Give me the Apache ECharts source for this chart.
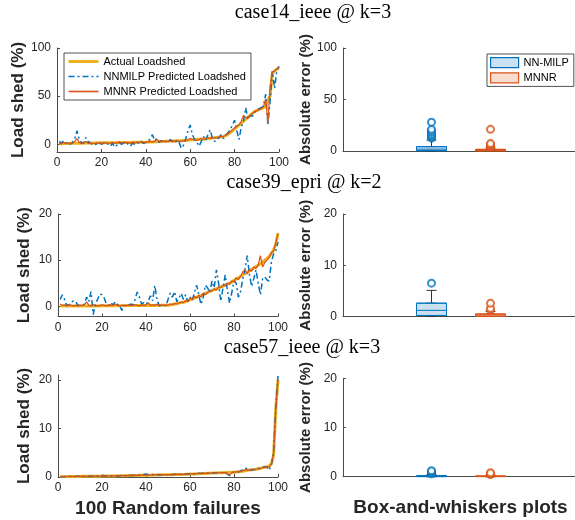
<!DOCTYPE html>
<html><head><meta charset="utf-8">
<script src="https://cdn.jsdelivr.net/npm/echarts@6/dist/echarts.min.js"></script>
<style>html,body{margin:0;padding:0;background:#fff}#c{width:575px;height:520px}</style>
</head><body><div id="c"></div><script>
// ---------------- DATA ----------------
const titles = ['case14_ieee @ k=3', 'case39_epri @ k=2', 'case57_ieee @ k=3'];
const seriesNames = ['Actual Loadshed', 'NNMILP Predicted Loadshed', 'MNNR Predicted Loadshed'];
const boxNames = ['NN-MILP', 'MNNR'];
const xTicks = [0, 20, 40, 60, 80, 100];

const actual14 = [0.5,0.6,0.7,0.8,0.9,1.0,1.0,1.1,1.1,1.2,
 1.2,1.2,1.3,1.3,1.3,1.4,1.4,1.4,1.5,1.5,
 1.5,1.5,1.6,1.6,1.6,1.7,1.7,1.7,1.8,1.8,
 1.8,1.9,1.9,2.0,2.0,2.0,2.1,2.1,2.2,2.2,
 2.3,2.4,2.5,2.6,2.7,2.8,2.9,3.0,3.1,3.2,
 3.3,3.4,3.5,3.6,3.7,3.8,3.9,4.0,4.2,4.4,
 4.6,4.8,5.0,5.2,5.4,5.6,5.8,6.0,6.3,6.6,
 6.9,7.2,7.5,7.8,8.2,9,10.5,12,14,16,
 18,20,22,24,26,28,30,32,34,35,
 36,37,38,40,46,50,74,76,78,80];
const nnmilp14 = [3,1,4,1,2,0,2,6,14,5,
 2,1,7,3,1,0,-1,1,2,0,
 1,2,0,-2,1,-3,-1,2,0,1,
 2,0,-2,1,0,2,1,3,1,2,
 3,6,10,4,6,2,4,2,3,2,
 5,3,1,4,2,-4,-1,6,14,20,
 10,5,2,-2,3,8,4,10,15,6,
 3,4,7,10,6,9,12,15,20,25,
 14,5,18,24,38,26,30,29,33,36,
 37,38,40,52,20,45,76,58,76,81];
const mnnr14 = [1,0.5,2,1,1.5,0.8,1,3,6,2,
 1,1.5,3,1,1.2,0.8,1,1.5,1.2,1,
 1.5,1.8,1,1.2,2,1,1.5,2.5,1.5,2,
 2,1.5,1,2,1.5,2.2,2,2.5,2,2,
 2.5,3,2.5,3,5,3,3.5,3,3,3,
 3.5,3,3.5,4,3,3,3.5,4,5,6,
 5,4.5,4,5,6,5,5.5,7,6,6.5,
 7,6.5,7.5,8,8,10,11,13,15,17,
 19,20,24,30,28,27,30,32,34,35,
 36,37,39,47,22,60,75,76,78,80];

const actual39 = [0.1,0.1,0.1,0.1,0.1,0.1,0.1,0.1,0.1,0.1,
 0.1,0.1,0.1,0.1,0.1,0.1,0.1,0.1,0.1,0.1,
 0.15,0.15,0.15,0.15,0.15,0.15,0.15,0.15,0.15,0.15,
 0.2,0.2,0.2,0.2,0.2,0.2,0.2,0.2,0.2,0.2,
 0.2,0.2,0.2,0.2,0.2,0.25,0.25,0.25,0.25,0.25,
 0.3,0.4,0.5,0.6,0.7,0.8,0.9,1.0,1.2,1.4,
 1.6,1.8,2.0,2.2,2.4,2.6,2.8,3.0,3.2,3.4,
 3.6,3.8,4.0,4.2,4.4,4.6,4.8,5.0,5.3,5.6,
 5.9,6.2,6.5,6.8,7.1,7.4,7.7,8.0,8.3,8.6,
 8.9,9.2,9.6,10.0,10.4,10.8,11.5,12.2,13.5,15.8];
const nnmilp39 = [1.5,2.5,1.5,0.2,0.3,0.8,1.2,1.0,0.3,0.2,
 0.1,0.5,2.0,1.0,3.2,-1.8,0.5,1.5,2.7,2.5,
 1.8,0.5,0.2,0.8,0.3,1.0,0.4,0.2,-0.9,0.1,
 0.3,0.2,0.5,0.3,1.5,3.1,2.0,0.5,0.8,0.4,
 1.0,2.3,1.2,4.5,1.5,0.1,0.2,0.3,0.1,1.5,
 2.9,2.0,3.2,1.0,1.8,2.8,1.5,2.5,1.0,2.0,
 1.2,3.0,4.6,2.5,0.4,2.0,4.6,4.0,3.0,5.5,
 4.0,7.9,5.0,1.1,4.0,6.8,3.5,0.7,3.0,5.5,
 5.0,2.0,3.2,6.0,8.0,11.0,7.0,4.3,6.0,7.9,
 5.0,2.5,6.0,6.4,5.7,5.5,9.6,11.4,12.0,13.9];
const mnnr39 = [0.5,0.2,0.3,0.1,0.4,0.2,0.1,0.2,0.1,0.2,
 0.2,0.3,1.0,0.2,0.1,0.3,0.2,0.1,0.2,0.3,
 0.2,0.1,0.2,0.3,0.2,0.5,0.2,0.1,0.2,0.2,
 0.1,0.3,0.2,0.2,0.4,0.2,0.1,0.3,0.2,0.3,
 0.8,0.2,0.3,0.2,0.5,0.2,0.3,0.2,0.2,0.3,
 0.5,0.4,0.6,0.5,0.8,0.9,0.8,1.3,1.0,1.8,
 1.5,2.2,1.8,2.4,2.0,2.8,2.5,3.0,3.3,3.4,
 3.8,3.5,4.2,4.0,4.6,4.5,5.0,4.8,5.5,5.3,
 6.2,5.8,6.5,7.5,7.9,7.0,8.0,7.6,8.5,8.2,
 9.0,11.0,8.5,9.5,10.0,10.6,11.6,12.0,13.8,15.8];

const actual57 = [0.05,0.06,0.07,0.08,0.09,0.1,0.1,0.11,0.12,0.12,
 0.13,0.14,0.14,0.15,0.16,0.16,0.17,0.18,0.18,0.19,
 0.2,0.2,0.21,0.22,0.22,0.23,0.24,0.25,0.26,0.27,
 0.28,0.29,0.3,0.31,0.32,0.33,0.34,0.35,0.36,0.37,
 0.38,0.39,0.4,0.41,0.42,0.43,0.44,0.45,0.46,0.47,
 0.48,0.49,0.5,0.51,0.52,0.53,0.54,0.56,0.58,0.6,
 0.62,0.64,0.66,0.68,0.7,0.72,0.74,0.76,0.78,0.8,
 0.82,0.84,0.86,0.88,0.9,0.92,0.94,0.96,0.98,1.0,
 1.05,1.1,1.15,1.2,1.3,1.4,1.45,1.5,1.55,1.6,
 1.7,1.8,1.9,2.0,2.1,2.3,2.7,4.5,14,20];
const nnmilp57 = [0.1,0.0,0.1,0.05,0.15,0.1,0.0,0.1,0.2,0.1,
 0.15,0.1,0.2,0.1,0.15,0.2,0.1,0.2,0.15,0.2,
 0.25,0.2,0.15,0.25,0.2,0.3,0.2,0.25,0.3,0.25,
 0.3,0.25,0.35,0.3,0.35,0.3,0.4,0.35,0.5,0.6,
 0.45,0.4,0.5,0.4,0.45,0.5,0.4,0.5,0.45,0.5,
 0.5,0.45,0.55,0.5,0.6,0.5,0.6,0.55,0.6,0.65,
 0.7,0.6,0.8,0.75,0.7,0.8,0.7,0.8,0.75,0.85,
 0.8,0.9,0.85,0.9,0.95,0.9,0.6,0.3,0.9,1.0,
 1.0,1.1,1.2,1.6,1.8,1.7,1.5,1.4,1.6,1.5,
 1.8,1.7,2.0,2.1,2.0,1.4,2.6,5.0,14.5,20.8];
const mnnr57 = [0.05,0.1,0.05,0.1,0.1,0.12,0.1,0.12,0.15,0.12,
 0.15,0.12,0.15,0.18,0.15,0.18,0.2,0.18,0.2,0.2,
 0.22,0.2,0.22,0.25,0.22,0.25,0.25,0.28,0.27,0.3,
 0.3,0.3,0.32,0.33,0.32,0.35,0.35,0.37,0.38,0.4,
 0.4,0.4,0.42,0.43,0.42,0.45,0.45,0.47,0.48,0.5,
 0.5,0.5,0.52,0.53,0.55,0.55,0.6,0.58,0.6,0.62,
 0.65,0.66,0.68,0.7,0.72,0.75,0.76,0.78,0.8,0.82,
 0.85,0.86,0.88,0.9,0.92,0.9,0.7,0.4,0.9,1.0,
 1.05,1.1,1.15,1.3,1.4,1.45,1.4,1.5,1.55,1.6,
 1.7,1.75,1.9,2.0,2.1,2.0,2.7,4.8,14.2,20.0];

// boxplot stats: [min, Q1, median, Q3, max] and outliers
const boxNN14 = [0, 0.3, 1.8, 4.2, 10.6];
const outNN14 = [12.5, 13.5, 14.5, 16, 18, 19.5, 21, 28];
const boxMN14 = [0, 0.1, 0.6, 1.6, 3.0];
const outMN14 = [3.8, 4.5, 5.3, 6.2, 7.2, 21];
const boxNN39 = [0, 0.2, 1.2, 2.6, 5.1];
const outNN39 = [6.5];
const boxMN39 = [0, 0.05, 0.3, 0.5, 1.0];
const outMN39 = [1.3, 1.6, 2.6];
const boxNN57 = [0, 0.02, 0.08, 0.2, 0.45];
const outNN57 = [0.6, 0.8, 1.0, 1.2];
const boxMN57 = [0, 0.02, 0.06, 0.15, 0.3];
const outMN57 = [0.45, 0.6, 0.8];

const leftYTicks = [[0, 50, 100], [0, 10, 20], [0, 10, 20]];

// ---------------- LAYOUT / STYLE ----------------
const FONT = 'Liberation Sans, Arial, Helvetica, sans-serif';
const SERIF = 'Liberation Serif, Times New Roman, serif';
const C_Y = '#EDB120', C_B = '#0072BD', C_O = '#D95319';
const FILL_B = '#cbe1f1', FILL_O = '#f7dccf';
const AX = '#4a4a4a';

const lines = [[actual14, nnmilp14, mnnr14], [actual39, nnmilp39, mnnr39], [actual57, nnmilp57, mnnr57]];
const boxes = [[[boxNN14, outNN14], [boxMN14, outMN14]], [[boxNN39, outNN39], [boxMN39, outMN39]], [[boxNN57, outNN57], [boxMN57, outMN57]]];

const leftLayout = [
  {left: 57, top: 48, width: 222, height: 104, min: -8, max: 100},
  {left: 58, top: 214, width: 220, height: 102.5, min: -2.2, max: 20},
  {left: 58, top: 375, width: 220, height: 102, min: 0, max: 21}
];
const rightLayout = [
  {top: 48, height: 103, min: 0, max: 100, interval: 50},
  {top: 214, height: 102.5, min: 0, max: 20, interval: 10},
  {top: 378.3, height: 98.4, min: 0, max: 20, interval: 10}
];
const titlePos = [[313, 13], [304, 183], [302, 348]];
const lineStyles = [
  {color: C_Y, width: 3},
  {color: C_B, width: 1.5, type: [6, 3, 2, 3]},
  {color: C_O, width: 1.2}
];
const legendWidths = [3, 1.5, 1.6];

const grid = [], xAxis = [], yAxis = [], series = [];

function axisBase() {
  return {
    axisLine: {show: true, onZero: false, lineStyle: {color: AX, width: 1}},
    axisTick: {show: true, inside: true, length: 3, lineStyle: {color: AX, width: 1}},
    axisLabel: {color: '#262626', fontSize: 12, fontFamily: FONT},
    splitLine: {show: false}
  };
}
const noOuter = {outerBoundsMode: 'none', containLabel: false};

// left line panels
leftLayout.forEach((L, r) => {
  grid.push(Object.assign({left: L.left, top: L.top, width: L.width, height: L.height}, noOuter));
  const gi = grid.length - 1;
  const xa = Object.assign(axisBase(), {type: 'value', gridIndex: gi, min: 0, max: 100, interval: 20});
  xa.axisLabel.margin = 5;
  if (r === 2) {
    xa.name = '100 Random failures'; xa.nameLocation = 'middle'; xa.nameGap = 22;
    xa.nameTextStyle = {fontSize: 19, fontWeight: 'bold', color: '#262626', fontFamily: FONT};
  }
  xAxis.push(xa);
  const ya = Object.assign(axisBase(), {type: 'value', gridIndex: gi, min: L.min, max: L.max,
    name: 'Load shed (%)', nameLocation: 'middle', nameGap: 25,
    nameTextStyle: {fontSize: 17, fontWeight: 'bold', color: '#262626', fontFamily: FONT}});
  ya.axisLabel.customValues = leftYTicks[r];
  ya.axisTick.customValues = leftYTicks[r];
  ya.axisLabel.margin = 6;
  yAxis.push(ya);
  const xi = xAxis.length - 1, yi = yAxis.length - 1;
  lines[r].forEach((arr, k) => {
    series.push({
      type: 'line', name: seriesNames[k], xAxisIndex: xi, yAxisIndex: yi,
      data: arr.map((v, i) => [i + 1, v]), symbol: 'none', showSymbol: false,
      lineStyle: lineStyles[k], itemStyle: {color: lineStyles[k].color}, z: 2 + k, silent: true
    });
  });
});

// right box panels
rightLayout.forEach((R, r) => {
  grid.push(Object.assign({left: 343, top: R.top, width: 235, height: R.height}, noOuter));
  const gi = grid.length - 1;
  const xa = {type: 'value', gridIndex: gi, min: 0, max: 1,
    axisLine: {show: true, onZero: false, lineStyle: {color: AX, width: 1}},
    axisTick: {show: false}, axisLabel: {show: false}, splitLine: {show: false}};
  if (r === 2) {
    xa.name = 'Box-and-whiskers plots'; xa.nameLocation = 'middle'; xa.nameGap = 22;
    xa.nameTextStyle = {fontSize: 19, fontWeight: 'bold', color: '#262626', fontFamily: FONT};
  }
  xAxis.push(xa);
  const ya = Object.assign(axisBase(), {type: 'value', gridIndex: gi, min: R.min, max: R.max, interval: R.interval,
    name: 'Absolute error (%)', nameLocation: 'middle', nameGap: 30,
    nameTextStyle: {fontSize: 15, fontWeight: 'bold', color: '#262626', fontFamily: FONT}});
  ya.axisLabel.margin = 6;
  yAxis.push(ya);

  const lefts = [402, 461];
  const colors = [[C_B, FILL_B], [C_O, FILL_O]];
  boxes[r].forEach(([st, out], k) => {
    grid.push(Object.assign({left: lefts[k], top: R.top, width: 59, height: R.height}, noOuter));
    const bg = grid.length - 1;
    xAxis.push({type: 'category', gridIndex: bg, data: [boxNames[k]], show: false});
    const xA = xAxis.length - 1;
    xAxis.push({type: 'category', gridIndex: bg, data: [boxNames[k]], show: false, position: 'top'});
    const xB = xAxis.length - 1;
    yAxis.push({type: 'value', gridIndex: bg, min: R.min, max: R.max, show: false});
    const yB = yAxis.length - 1;
    series.push({type: 'boxplot', name: boxNames[k] + ' whisker', xAxisIndex: xB, yAxisIndex: yB,
      data: [st], boxWidth: [10, 10], silent: true,
      itemStyle: {color: '#fff', borderColor: '#333', borderWidth: 1}, z: 2});
    series.push({type: 'boxplot', name: boxNames[k], xAxisIndex: xA, yAxisIndex: yB,
      data: [[st[1], st[1], st[2], st[3], st[3]]], boxWidth: [30, 30], silent: true,
      itemStyle: {color: colors[k][1], borderColor: colors[k][0], borderWidth: 1}, z: 3});
    series.push({type: 'scatter', name: boxNames[k] + ' outliers', xAxisIndex: xA, yAxisIndex: yB,
      data: out.map(v => [0, v]), symbol: 'emptyCircle', symbolSize: 7, silent: true,
      itemStyle: {color: colors[k][0], borderColor: colors[k][0], borderWidth: 1.2}, z: 4});
  });
});

const option = {
  animation: false,
  backgroundColor: '#fff',
  grid, xAxis, yAxis, series,
  legend: [
    {data: seriesNames.map((n, k) => ({name: n, lineStyle: {width: legendWidths[k]}})),
      orient: 'vertical', left: 64, top: 53, itemWidth: 30, itemHeight: 10, itemGap: 4,
      padding: [3, 5, 3, 3], borderColor: '#262626', borderWidth: 0.8, backgroundColor: '#fff',
      itemStyle: {opacity: 0}, lineStyle: {opacity: 1},
      textStyle: {fontSize: 11, fontFamily: FONT, color: '#000'}, selectedMode: false},
    {data: [
        {name: boxNames[0], icon: 'rect', itemStyle: {color: FILL_B, borderColor: C_B, borderWidth: 1.2}},
        {name: boxNames[1], icon: 'rect', itemStyle: {color: FILL_O, borderColor: C_O, borderWidth: 1.2}}],
      orient: 'vertical', left: 487, top: 54, itemWidth: 28, itemHeight: 10, itemGap: 4,
      padding: [3, 5, 3, 3], borderColor: '#262626', borderWidth: 0.8, backgroundColor: '#fff',
      textStyle: {fontSize: 11, fontFamily: FONT, color: '#000'}, selectedMode: false}
  ],
  graphic: titles.map((t, i) => ({
    type: 'text', x: titlePos[i][0], y: titlePos[i][1], z: 10,
    style: {text: t, font: '20px ' + SERIF, fill: '#000', textAlign: 'center', textVerticalAlign: 'middle'}
  }))
};

const chart = echarts.init(document.getElementById('c'), null, {renderer: 'canvas'});
chart.setOption(option);
</script></body></html>
